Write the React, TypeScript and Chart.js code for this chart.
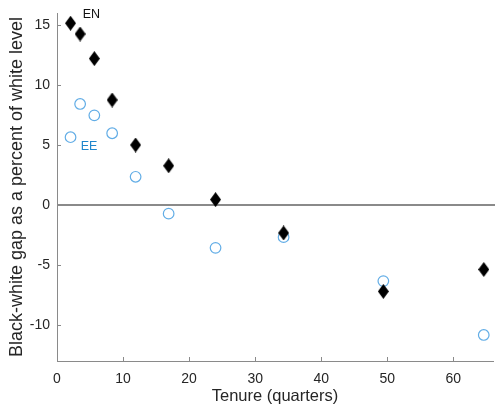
import React, { useEffect, useRef } from "react";
import { Chart, registerables } from "chart.js";

Chart.register(...registerables);

const tenureEN = [2.05, 3.5, 5.65, 8.35, 11.9, 16.9, 24.0, 34.3, 49.4, 64.6];
const gapEN = [15.15, 14.25, 12.2, 8.75, 5.0, 3.27, 0.45, -2.33, -7.2, -5.37];
const tenureEE = [2.05, 3.5, 5.65, 8.35, 11.9, 16.9, 24.0, 34.3, 49.4, 64.6];
const gapEE = [5.65, 8.42, 7.47, 5.98, 2.35, -0.72, -3.57, -2.68, -6.34, -10.83];
const xTicks = [0, 10, 20, 30, 40, 50, 60];
const yTicks = [-10, -5, 0, 5, 10, 15];
const seriesLabels = ["EN", "EE"];
const textLabels = [
  { text: "EN", x: 5.2, y: 15.85, color: "#111111" },
  { text: "EE", x: 4.85, y: 4.85, color: "#1e86cc" },
];

function makeDiamond(): HTMLCanvasElement {
  const c = document.createElement("canvas");
  c.width = 11;
  c.height = 15;
  const ctx = c.getContext("2d")!;
  ctx.fillStyle = "#000";
  ctx.beginPath();
  ctx.moveTo(5.5, 0);
  ctx.lineTo(11, 7.5);
  ctx.lineTo(5.5, 15);
  ctx.lineTo(0, 7.5);
  ctx.closePath();
  ctx.fill();
  return c;
}

export default function App() {
  const ref = useRef<HTMLCanvasElement | null>(null);
  useEffect(() => {
    document.body.style.margin = "0";
    const diamond = makeDiamond();
    const font = "'Liberation Sans', Arial, Helvetica, sans-serif";
    const decor = {
      id: "decor",
      beforeDatasetsDraw(chart: any) {
        const ctx = chart.ctx;
        const { left, right, bottom } = chart.chartArea;
        const xs = chart.scales.x;
        const ys = chart.scales.y;
        ctx.save();
        const y0 = ys.getPixelForValue(0);
        ctx.strokeStyle = "#8a8a8a";
        ctx.lineWidth = 2;
        ctx.beginPath();
        ctx.moveTo(left, y0);
        ctx.lineTo(right + 2, y0);
        ctx.stroke();
        ctx.strokeStyle = "#8a8a8a";
        ctx.lineWidth = 1;
        xTicks.forEach((v) => {
          const px = Math.round(xs.getPixelForValue(v)) + 0.5;
          ctx.beginPath();
          ctx.moveTo(px, bottom);
          ctx.lineTo(px, bottom - 4);
          ctx.stroke();
        });
        yTicks.forEach((v) => {
          const py = Math.round(ys.getPixelForValue(v)) + 0.5;
          ctx.beginPath();
          ctx.moveTo(left, py);
          ctx.lineTo(left + 4, py);
          ctx.stroke();
        });
        ctx.restore();
      },
      afterDatasetsDraw(chart: any) {
        const ctx = chart.ctx;
        const xs = chart.scales.x;
        const ys = chart.scales.y;
        ctx.save();
        ctx.font = `12.5px ${font}`;
        ctx.textAlign = "center";
        ctx.textBaseline = "middle";
        textLabels.forEach((t) => {
          ctx.fillStyle = t.color;
          ctx.fillText(t.text, xs.getPixelForValue(t.x), ys.getPixelForValue(t.y));
        });
        ctx.restore();
      },
    };
    const chart = new Chart(ref.current!, {
      type: "scatter",
      data: {
        datasets: [
          {
            label: seriesLabels[0],
            data: tenureEN.map((x, i) => ({ x, y: gapEN[i] })),
            pointStyle: diamond as any,
            pointRadius: 7,
            backgroundColor: "#000",
            borderColor: "#000",
          },
          {
            label: seriesLabels[1],
            data: tenureEE.map((x, i) => ({ x, y: gapEE[i] })),
            pointStyle: "circle",
            pointRadius: 5.3,
            borderWidth: 1.2,
            backgroundColor: "rgba(0,0,0,0)",
            borderColor: "#62ade6",
          },
        ],
      },
      plugins: [decor],
      options: {
        animation: false,
        responsive: false,
        layout: { autoPadding: false, padding: { top: 13, right: 2, left: 0, bottom: 0 } },
        plugins: { legend: { display: false }, tooltip: { enabled: false } },
        scales: {
          x: {
            type: "linear",
            min: 0,
            max: 66,
            afterFit: (s: any) => {
              s.height = 45;
              s.paddingLeft = 0;
              s.paddingRight = 0;
            },
            afterBuildTicks: (s: any) => {
              s.ticks = xTicks.map((v) => ({ value: v }));
            },
            grid: { display: false, drawTicks: false },
            border: { display: true, color: "#8a8a8a", width: 1 },
            ticks: {
              padding: 10,
              color: "#262626",
              font: { family: font, size: 14 },
            },
            title: {
              display: true,
              text: "Tenure (quarters)",
              color: "#262626",
              font: { family: font, size: 16.5 },
              padding: { top: 0, bottom: 0 },
            },
          },
          y: {
            type: "linear",
            min: -13,
            max: 16,
            afterFit: (s: any) => {
              s.width = 57;
              s.paddingTop = 0;
              s.paddingBottom = 0;
            },
            afterBuildTicks: (s: any) => {
              s.ticks = yTicks.map((v) => ({ value: v }));
            },
            grid: { display: false, drawTicks: false },
            border: { display: true, color: "#8a8a8a", width: 1 },
            ticks: {
              padding: 7,
              color: "#262626",
              font: { family: font, size: 14 },
            },
            title: {
              display: true,
              text: "Black-white gap as a percent of white level",
              color: "#262626",
              font: { family: font, size: 18 },
              padding: { top: 6, bottom: 0 },
            },
          },
        },
      },
    });
    return () => chart.destroy();
  }, []);
  return (
    <div style={{ position: "absolute", left: 0, top: 0, width: 495, height: 406 }}>
      <canvas ref={ref} width={495} height={406} />
    </div>
  );
}
